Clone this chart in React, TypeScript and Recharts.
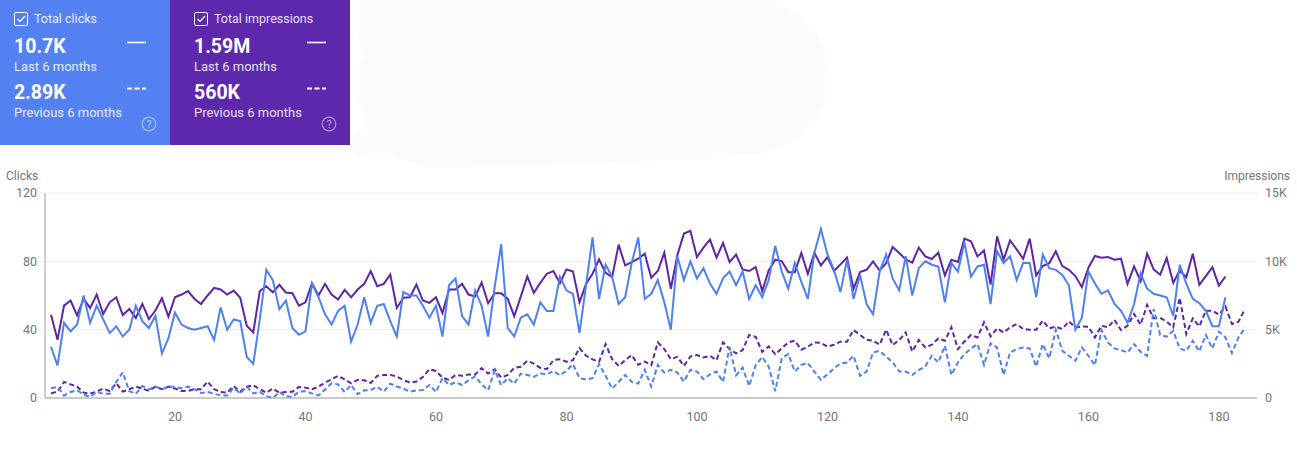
import { CartesianGrid, ComposedChart, Line, XAxis, YAxis } from "recharts";

const clicks = [
  30, 19, 44, 39, 43, 60, 44, 54, 46, 38, 42, 36, 40, 54, 45, 41, 48, 26, 35, 50, 43, 41, 40, 41, 42, 34, 53, 40, 46, 45, 24, 20, 46, 75, 69, 52, 57, 41, 37, 39, 67, 59, 49, 43, 51,
  54, 33, 43, 59, 44, 54, 55, 45, 36, 62, 60, 60, 54, 47, 54, 36, 66, 70, 48, 43, 63, 54, 36, 65, 90, 41, 36, 47, 49, 43, 56, 51, 51, 71, 63, 61, 38, 66, 94, 58, 78, 71, 55, 59, 79, 94,
  58, 61, 69, 56, 40, 83, 69, 80, 70, 76, 67, 61, 70, 74, 66, 74, 58, 66, 59, 69, 89, 74, 64, 79, 68, 58, 85, 99, 84, 75, 62, 81, 58, 72, 55, 49, 74, 84, 70, 63, 83, 60, 76, 80, 78, 77,
  56, 79, 74, 91, 71, 77, 78, 55, 86, 79, 83, 69, 79, 79, 59, 84, 76, 75, 72, 66, 40, 47, 74, 67, 61, 63, 55, 51, 44, 55, 73, 64, 61, 60, 59, 48, 78, 67, 58, 55.5, 51, 42, 42, 59,
];

const impressions = [
  6100, 4260, 6760, 7130, 6050, 7250, 6590, 7570, 6150, 7000, 7370, 6080, 6520, 5860, 6880, 5780, 6400, 7300, 5950, 7370, 7570, 7820, 7250, 6880, 7500, 8060, 7940, 7570, 7860, 7330, 5290, 4800, 7820, 8180, 7740, 8280, 7720, 7670, 6760, 7000, 8400, 7500, 8350, 7570, 7200,
  7910, 7370, 7940, 8350, 9290, 8180, 8350, 9040, 6590, 7330, 7370, 8300, 7130, 6960, 7370, 6220, 7940, 7940, 8350, 7570, 7420, 8450, 6930, 7670, 7670, 7250, 5980, 7420, 8890, 7690, 8430, 9090, 9290, 8400, 9410, 9260, 7000, 8350, 9090, 10140, 9160, 8840, 11220, 9700, 9950, 10190,
  10560, 8800, 9290, 10630, 7990, 10440, 12030, 12230, 10310, 11000, 11590, 10270, 11340, 9950, 10490, 9410, 9290, 9580, 7820, 9330, 10120, 10020, 9210, 9210, 10610, 9090, 10630, 9700, 10310, 9290, 9780, 10270, 7990, 9210, 9380, 10000, 9330, 9870, 11050, 10610, 10140, 9900, 11000, 10360, 10170, 10630,
  8970, 10120, 9950, 11660, 11470, 10360, 10800, 8300, 11830, 10120, 11540, 10880, 10190, 11660, 8970, 9650, 9870, 10730, 9650, 9380, 8920, 8110, 9530, 10390, 10270, 10310, 10120, 10190, 8350, 9630, 8550, 10560, 9410, 9020, 10240, 8430, 9330, 8840, 10560, 8280, 8920, 9580, 8230, 8890,
];

const prevClicks = [
  5.7, 6.5, 1.4, 3.5, 4.5, 2, 0.6, 3.5, 2.5, 2.5, 9.4, 15, 4, 2.5, 7, 5, 6.7, 5, 6.7, 6.5, 5.7, 6.7, 5, 3, 3.5, 2.5, 1.5, 1.5, 6, 2.7, 6.7, 2.7, 3.5, 1, 0, 3.5, 1, 0.6, 3.7, 4, 2.7, 1.5, 5, 8.6, 8,
  3.5, 7.6, 2.2, 4.5, 4.7, 6.5, 3.7, 8.4, 6.7, 5.5, 3.7, 4.5, 4.7, 7.6, 3.5, 11.6, 7.6, 9.2, 7.6, 10.4, 12.7, 8, 4.5, 16.3, 7.5, 11.6, 8.4, 14.3, 13.5, 12.4, 14.3, 13.9, 15.9, 13.3, 15.9, 19.8, 11.6, 10.8, 11.6, 19.8, 13, 5.5, 9.4, 13.5, 9.4, 8.4,
  16.5, 6.7, 19.4, 14.9, 16.5, 14.9, 9.6, 16.5, 15.5, 11, 13.9, 15.5, 9.4, 30, 13.3, 17.8, 7, 19.2, 24, 18.4, 4, 23.3, 25.7, 15.5, 19.4, 20.4, 15.5, 10.6, 13.9, 17.3, 20.2, 20.8, 24.7, 13, 15.5, 26.7, 27.6, 24.3, 20.8, 15.5, 15.5, 13.5, 16.3, 18.6, 24.7, 20.8,
  30.6, 13.5, 20.8, 25.7, 29, 31.6, 19.4, 32, 29.6, 13.5, 26.7, 28.6, 29.6, 29, 18.4, 31.6, 23.3, 40, 27.6, 24.7, 21.8, 29.6, 24.7, 19.2, 39.8, 32.5, 29, 28, 26.7, 31.6, 27, 24.7, 52, 36.9, 35.9, 39.4, 29, 27.6, 33.5, 27.3, 36.9, 29, 38.8, 35.5, 26.3, 35.5, 41,
];

const prevImpressions = [
  340, 465, 1176, 1000, 830, 390, 320, 465, 690, 515, 1080, 465, 640, 830, 690, 515, 830, 640, 830, 690, 515, 515, 640, 640, 1200, 640, 440, 390, 880, 465, 830, 930, 640, 390, 690, 390, 440, 465, 810, 760, 640, 830, 1130, 1370, 1620,
  1370, 1080, 1320, 1300, 1100, 1620, 1690, 1690, 1570, 1320, 1130, 1200, 1540, 2110, 1980, 1490, 1320, 1690, 1620, 1715, 1715, 2180, 1790, 2110, 1490, 1690, 2200, 2280, 2720, 2520, 2200, 2110, 2770, 2840, 2650, 2770, 3650, 3090, 2820, 2650, 3940, 2840, 2350, 2770, 3140, 2430,
  2670, 2400, 4070, 3580, 2840, 3010, 2350, 3040, 3140, 2960, 3090, 2770, 4070, 3580, 3260, 3500, 4610, 4480, 3380, 3770, 3210, 3630, 4070, 4190, 3530, 3750, 4070, 4040, 3750, 3900, 4120, 4120, 4970, 4610, 4260, 4190, 3900, 5000, 3870, 4240, 4800, 3400, 4240, 3700, 3900, 4360,
  4190, 5170, 3580, 4140, 4610, 4430, 5540, 4510, 5100, 4800, 5170, 5410, 5050, 5000, 5000, 5660, 5100, 5220, 5050, 5610, 5170, 5240, 5220, 4430, 5290, 5170, 5710, 4970, 5290, 6150, 5370, 6810, 5830, 5860, 5590, 5170, 7330, 4680, 5830, 5240, 6390, 6390, 6100, 6690, 5410, 5590, 6520,
];

const dayTicks = [20, 40, 60, 80, 100, 120, 140, 160, 180];
const clickTicks = [0, 40, 80, 120];
const impressionTicks = [0, 5000, 10000, 15000];

const BLUE = "#4f80f0";
const PURPLE = "#5e25a6";
const FONT = "Roboto, sans-serif";
const TICK = { fontSize: 12.5, fill: "#757575", fontFamily: FONT };

const chartData = prevClicks.map((value, i) => ({
  day: i + 1,
  clicks: clicks[i],
  impressions: impressions[i],
  prevClicks: value,
  prevImpressions: prevImpressions[i],
}));

function MetricCard({ left, width, color, title, last, previous, inset }: { left: number; width: number; color: string; title: string; last: string; previous: string; inset: number }) {
  const text = (top: number, size: number, weight: number, value: string, x = inset) => (
    <div style={{ position: "absolute", left: x, top, fontSize: size, fontWeight: weight, lineHeight: "20px", whiteSpace: "nowrap" }}>{value}</div>
  );
  const lineX = inset + 113;
  return (
    <div style={{ position: "absolute", left, top: 0, width, height: 145, background: color, color: "#fff", fontFamily: FONT }}>
      <svg width={width} height={145} style={{ position: "absolute", left: 0, top: 0 }}>
        <rect x={inset + 0.5} y={12.5} width={13} height={13} rx={1.5} fill="none" stroke="#fff" strokeWidth={1} />
        <path d={`M${inset + 3.5} 19 L${inset + 6} 21.5 L${inset + 11} 16`} fill="none" stroke="#fff" strokeWidth={1.2} />
        <line x1={lineX} x2={lineX + 19} y1={42.5} y2={42.5} stroke="#fff" strokeWidth={1.6} />
        <line x1={lineX} x2={lineX + 19} y1={88.5} y2={88.5} stroke="#fff" strokeWidth={1.8} strokeDasharray="5 2.5" />
        <circle cx={inset + 135} cy={124} r={6.8} fill="none" stroke="#fff" strokeOpacity={0.5} strokeWidth={1.2} />
        <text x={inset + 135} y={128} textAnchor="middle" fontSize={11} fill="#fff" fillOpacity={0.55}>?</text>
      </svg>
      <div style={{ opacity: 0.85 }}>{text(9, 12.5, 400, title, inset + 20)}</div>
      {text(37, 19.5, 700, last)}
      <div style={{ opacity: 0.85 }}>{text(57, 13, 400, "Last 6 months")}</div>
      {text(83, 19.5, 700, previous)}
      <div style={{ opacity: 0.85 }}>{text(103, 13, 400, "Previous 6 months")}</div>
    </div>
  );
}

export default function App() {
  return (
    <div style={{ position: "absolute", left: 0, top: 0, width: 1297, height: 461, background: "#fff", overflow: "hidden", fontFamily: FONT }}>
      <svg width={1297} height={180} style={{ position: "absolute", left: 0, top: 0 }}>
        <path
          d="M360 0 C356 30 360 45 364 57 C356 75 355 95 362 112 L370 132 L358 132 C350 133 349 155 360 155 L395 156 C410 164 425 167 440 167 L620 163 L760 153 C800 145 828 115 828 78 C828 45 810 18 780 5 L778 0 Z"
          fill="#fcfafb"
        />
      </svg>
      <MetricCard left={0} width={170} color="#5481f1" title="Total clicks" last="10.7K" previous="2.89K" inset={14} />
      <MetricCard left={170} width={180} color="#5e28ad" title="Total impressions" last="1.59M" previous="560K" inset={24} />
      <div style={{ position: "absolute", left: 6, top: 169, fontSize: 12, lineHeight: "14px", color: "#757575" }}>Clicks</div>
      <div style={{ position: "absolute", right: 7, top: 169, fontSize: 12, lineHeight: "14px", color: "#757575" }}>Impressions</div>
      <div style={{ position: "absolute", left: 0, top: 0 }}>
        <ComposedChart width={1297} height={461} data={chartData} margin={{ top: 193, right: 0, bottom: 33, left: 0 }}>
          <CartesianGrid horizontal vertical={false} stroke="#ececec" yAxisId="clicks" />
          <XAxis
            dataKey="day"
            type="number"
            domain={[1, 184]}
            ticks={dayTicks}
            padding={{ left: 6, right: 12 }}
            height={30}
            tickLine={false}
            axisLine={{ stroke: "#9e9e9e" }}
            tick={TICK}
            tickMargin={8}
          />
          <YAxis
            yAxisId="clicks"
            width={45}
            domain={[0, 120]}
            ticks={clickTicks}
            axisLine={{ stroke: "#9e9e9e" }}
            tickLine={{ stroke: "#ececec" }}
            tickSize={6}
            tick={TICK}
          />
          <YAxis
            yAxisId="impressions"
            orientation="right"
            width={40}
            domain={[0, 15000]}
            ticks={impressionTicks}
            axisLine={false}
            tickLine={false}
            tickFormatter={(v: number) => (v === 0 ? "0" : `${v / 1000}K`)}
            tick={TICK}
          />
          <Line yAxisId="impressions" dataKey="prevImpressions" stroke={PURPLE} strokeWidth={2} strokeDasharray="5 3" dot={false} isAnimationActive={false} />
          <Line yAxisId="clicks" dataKey="prevClicks" stroke={BLUE} strokeWidth={2} strokeDasharray="5 3" dot={false} isAnimationActive={false} />
          <Line yAxisId="impressions" dataKey="impressions" stroke={PURPLE} strokeWidth={2} dot={false} isAnimationActive={false} />
          <Line yAxisId="clicks" dataKey="clicks" stroke={BLUE} strokeWidth={2} dot={false} isAnimationActive={false} />
        </ComposedChart>
      </div>
    </div>
  );
}
